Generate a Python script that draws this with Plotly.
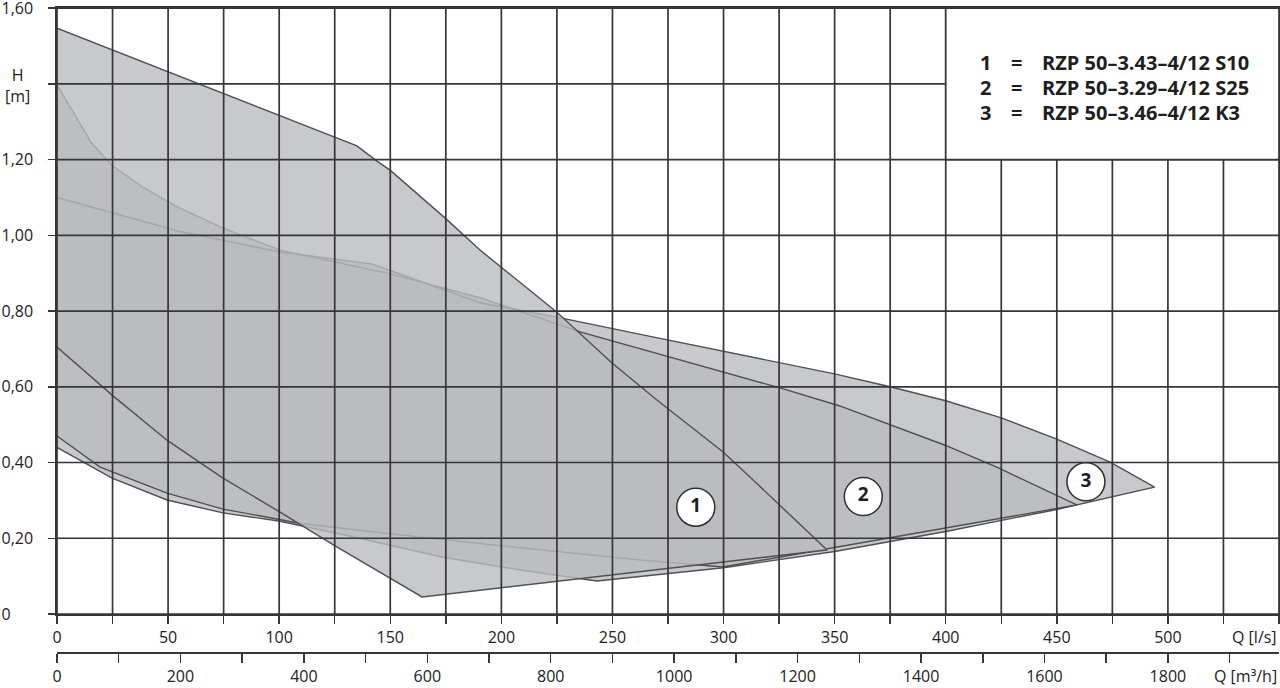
import plotly.graph_objects as go

# ---------------- data (Q in l/s, H in m) ----------------
# Pump 1: RZP 50-3.43-4/12 S10
p1_top_q = [0, 135.0, 144.0, 149.9, 174.6, 190.4, 225.0, 249.8, 270.0, 299.8, 313.3, 346.6]
p1_top_h = [1.547, 1.236, 1.196, 1.172, 1.046, 0.961, 0.797, 0.663, 0.565, 0.428, 0.354, 0.169]
p1_bot_q = [346.6, 164.3, 124.2, 100.4, 74.7, 49.5, 24.8, 0]
p1_bot_h = [0.169, 0.045, 0.183, 0.269, 0.359, 0.459, 0.578, 0.705]

# Pump 2: RZP 50-3.29-4/12 S25
p2_top_q = [0, 15.6, 24.7, 38.7, 48.6, 55.4, 74.7, 100.4, 150, 190.4, 235.4, 280, 325.4, 352, 379, 400, 424, 459]
p2_top_h = [1.397, 1.243, 1.185, 1.127, 1.093, 1.072, 1.019, 0.961, 0.898, 0.835, 0.745, 0.672, 0.597, 0.550, 0.491, 0.445, 0.385, 0.288]
p2_bot_q = [459, 379.4, 299.7, 262, 200, 150, 109.4, 97.2, 74.7, 49.5, 19.4, 0]
p2_bot_h = [0.288, 0.206, 0.124, 0.143, 0.180, 0.212, 0.239, 0.253, 0.277, 0.319, 0.388, 0.470]

# Pump 3: RZP 50-3.46-4/12 K3
p3_top_q = [0, 55.4, 100.4, 142, 190.4, 225, 262, 325.4, 350, 375, 400, 425, 450, 474, 494]
p3_top_h = [1.100, 1.010, 0.956, 0.924, 0.822, 0.784, 0.739, 0.663, 0.634, 0.600, 0.563, 0.518, 0.462, 0.401, 0.335]
p3_bot_q = [494, 450, 400, 350, 300, 243, 210, 173.7, 130, 100.4, 74.7, 49.5, 24.8, 0]
p3_bot_h = [0.335, 0.276, 0.218, 0.165, 0.122, 0.087, 0.115, 0.150, 0.208, 0.245, 0.267, 0.301, 0.359, 0.440]

curve_ids = ["1", "2", "3"]
curve_names = ["RZP 50–3.43–4/12 S10", "RZP 50–3.29–4/12 S25", "RZP 50–3.46–4/12 K3"]
label_q = [287.5, 362.9, 463.1]
label_h = [0.282, 0.310, 0.349]

# axes
q_ticks = list(range(0, 551, 25))
q_ticktext = [str(v) if (v % 50 == 0 and v <= 500) else "" for v in q_ticks]
m3h_ticks = list(range(0, 1901, 100))
m3h_ticktext = [str(v) if (v % 200 == 0 and v <= 1800) else "" for v in m3h_ticks]
h_ticks = [0, 0.2, 0.4, 0.6, 0.8, 1.0, 1.2, 1.4, 1.6]
h_ticktext = ["0\u2008\u2007\u2007", "0,20", "0,40", "0,60", "0,80", "1,00", "1,20", "", "1,60"]

# ---------------- styles ----------------
FILL = "rgba(186,187,191,0.80)"
EDGE = "#505050"
GRID = "#363636"
FONT = "Open Sans"

fig = go.Figure()

def poly(tq, th, bq, bh):
    return tq + bq, th + bh

polys = {}
polys["1"] = poly(p1_top_q, p1_top_h, p1_bot_q, p1_bot_h)
polys["2"] = poly(p2_top_q, p2_top_h, p2_bot_q, p2_bot_h)
polys["3"] = poly(p3_top_q, p3_top_h, p3_bot_q, p3_bot_h)

def add_fill(k):
    x, y = polys[k]
    fig.add_trace(go.Scatter(x=x, y=y, mode="lines", fill="toself", fillcolor=FILL,
                             line=dict(width=0, color="rgba(0,0,0,0)"), hoverinfo="skip", showlegend=False))

def add_edge(k):
    x, y = polys[k]
    fig.add_trace(go.Scatter(x=x, y=y, mode="lines", line=dict(width=1.4, color=EDGE),
                             hoverinfo="skip", showlegend=False))

add_fill("3")
add_fill("2")
add_edge("3")
add_edge("2")
add_fill("1")
add_edge("1")

# grid drawn above the fills
gx, gy = [], []
for q in q_ticks:
    gx += [q, q, None]
    gy += [h_ticks[0], h_ticks[-1], None]
for h in h_ticks:
    gx += [q_ticks[0], q_ticks[-1], None]
    gy += [h, h, None]
fig.add_trace(go.Scatter(x=gx, y=gy, mode="lines", line=dict(width=1.7, color=GRID),
                         hoverinfo="skip", showlegend=False))

# circled labels
fig.add_trace(go.Scatter(x=label_q, y=label_h, mode="markers+text", text=curve_ids,
                         textposition="middle center",
                         textfont=dict(family=FONT, size=19, color="#1e1e1e", weight="bold"),
                         marker=dict(size=38, color="white", line=dict(width=1.5, color="#303030")),
                         hoverinfo="skip", showlegend=False, cliponaxis=False))

# dummy trace to register the m3/h axis
fig.add_trace(go.Scatter(x=[None], y=[None], xaxis="x2", yaxis="y", mode="lines",
                         hoverinfo="skip", showlegend=False))

# legend box (white panel top right)
fig.add_shape(type="rect", xref="x", yref="y", x0=400, x1=550, y0=1.2, y1=1.6,
              fillcolor="white", line=dict(color=GRID, width=1.7), layer="above")

W, H = 1280, 688
ML, MR, MT, MB = 57, 1, 8, 8
plot_h = H - MT - MB
plot_w = W - ML - MR
def py(p):  # page y pixel -> paper fraction
    return (H - MB - p) / plot_h
def px(p):  # page x pixel -> paper fraction
    return (p - ML) / plot_w

ann = []
row_y = [62, 87, 112]
for i in range(3):
    ann.append(dict(xref="paper", yref="paper", x=px(985), y=py(row_y[i]), text=curve_ids[i],
                    showarrow=False, xanchor="center", yanchor="middle",
                    font=dict(family=FONT, size=20, color="#1e1e1e", weight="bold")))
    ann.append(dict(xref="paper", yref="paper", x=px(1017), y=py(row_y[i]), text="=",
                    showarrow=False, xanchor="center", yanchor="middle",
                    font=dict(family=FONT, size=20, color="#1e1e1e", weight="bold")))
    ann.append(dict(xref="paper", yref="paper", x=px(1040), y=py(row_y[i]), text=curve_names[i],
                    showarrow=False, xanchor="left", yanchor="middle",
                    font=dict(family=FONT, size=20, color="#1e1e1e", weight="bold")))

ann.append(dict(xref="paper", yref="paper", x=px(17), y=py(85), text="H<br>[m]", showarrow=False,
                xanchor="center", yanchor="middle", font=dict(family=FONT, size=16, color="#222")))
ann.append(dict(xref="paper", yref="paper", x=px(1279), y=py(637), text="Q [l/s]", showarrow=False,
                xanchor="right", yanchor="middle", font=dict(family=FONT, size=16, color="#222")))
ann.append(dict(xref="paper", yref="paper", x=px(1279), y=py(676), text="Q [m³/h]", showarrow=False,
                xanchor="right", yanchor="middle", font=dict(family=FONT, size=16, color="#222")))

axis_common = dict(showgrid=False, zeroline=False, showline=True, linecolor=GRID, linewidth=1.7,
                   ticks="outside", tickcolor=GRID, tickwidth=1.5, automargin=False,
                   ticklabeloverflow="allow",
                   tickfont=dict(family=FONT, size=16, color="#222"), layer="above traces")

fig.update_layout(
    width=W, height=H,
    margin=dict(l=ML, r=MR, t=MT, b=MB, autoexpand=False),
    paper_bgcolor="white", plot_bgcolor="white",
    separators=",.",
    showlegend=False,
    font=dict(family=FONT, color="#222"),
    xaxis=dict(range=[0, 550], tickmode="array", tickvals=q_ticks, ticktext=q_ticktext,
               ticklen=8, mirror=True, anchor="y", **axis_common),
    xaxis2=dict(range=[0, 550 * 3.6], tickmode="array", tickvals=m3h_ticks, ticktext=m3h_ticktext,
                ticklen=9, overlaying="x", anchor="free", position=py(652), side="bottom",
                **axis_common),
    yaxis=dict(range=[0, 1.6002], domain=[py(614), 1], tickmode="array", tickvals=h_ticks,
               ticktext=h_ticktext, ticklen=7, ticklabelstandoff=12, mirror=True, **axis_common),
    annotations=ann,
)

# remove the browser's default 8px body margin so the figure sits at the page origin
fig.write_html("out.html",
               config={"displayModeBar": False, "staticPlot": True},
               post_script="document.body.style.margin='0px';document.body.style.overflow='hidden';")
